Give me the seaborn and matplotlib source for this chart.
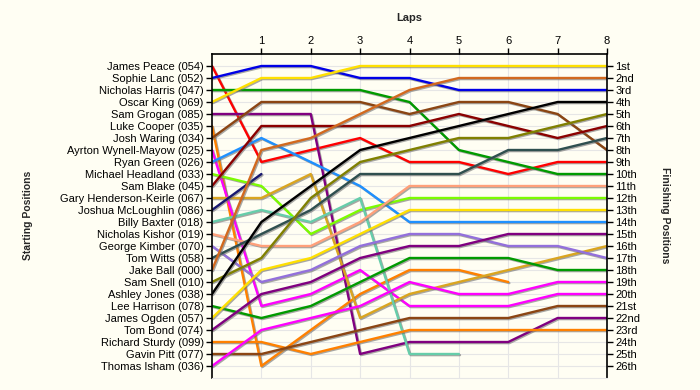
import pandas as pd
import seaborn as sns
import matplotlib.pyplot as plt
import matplotlib.patheffects as pe

# drivers in starting order
drivers = ['James Peace (054)', 'Sophie Lanc (052)', 'Nicholas Harris (047)', 'Oscar King (069)',
           'Sam Grogan (085)', 'Luke Cooper (035)', 'Josh Waring (034)', 'Ayrton Wynell-Mayow (025)',
           'Ryan Green (026)', 'Michael Headland (033)', 'Sam Blake (045)', 'Gary Henderson-Keirle (067)',
           'Joshua McLoughlin (086)', 'Billy Baxter (018)', 'Nicholas Kishor (019)', 'George Kimber (070)',
           'Tom Witts (058)', 'Jake Ball (000)', 'Sam Snell (010)', 'Ashley Jones (038)',
           'Lee Harrison (078)', 'James Ogden (057)', 'Tom Bond (074)', 'Richard Sturdy (099)',
           'Gavin Pitt (077)', 'Thomas Isham (036)']

colors = ['#FF0000', '#0000E6', '#009A00', '#FFE000', '#800080', '#FF8000', '#8B4513', '#FF00FF',
          '#1E90FF', '#7CFC00', '#8B0000', '#DAA520', '#191970', '#66CDAA', '#FFA07A', '#9370DB',
          '#2F4F4F', '#D2691E', '#808000', '#000000', '#009A00', '#FFE000', '#800080', '#FF8000',
          '#8B4513', '#FF00FF']

laps = [0, 1, 2, 3, 4, 5, 6, 7, 8]

# position of each driver at the end of each lap (None = retired)
lap0 = [1, 2, 3, 4, 5, 6, 7, 8, 9, 10, 11, 12, 13, 14, 15, 16, 17, 18, 19, 20, 21, 22, 23, 24, 25, 26]
lap1 = [9, 1, 3, 2, 5, 26, 4, 21, 7, 11, 6, 12, 10, 13, 16, 19, 15, 8, 17, 14, 22, 18, 20, 24, 25, 23]
lap2 = [8, 1, 3, 2, 5, 23, 4, 20, 9, 15, 6, 10, None, 14, 16, 18, 13, 7, 12, 11, 21, 17, 19, 25, 24, 22]
lap3 = [7, 2, 3, 1, 25, 20, 4, 18, 11, 13, 6, 22, None, 12, 14, 16, 10, 5, 9, 8, 19, 15, 17, 24, 23, 21]
lap4 = [9, 2, 4, 1, 24, 18, 5, 21, 14, 12, 6, 20, None, 25, 11, 15, 10, 3, 8, 7, 17, 13, 16, 23, 22, 19]
lap5 = [9, 3, 8, 1, 24, 18, 4, 21, 14, 12, 5, 19, None, 25, 11, 15, 10, 2, 7, 6, 17, 13, 16, 23, 22, 20]
lap6 = [10, 3, 9, 1, 24, 19, 4, 21, 14, 12, 6, 18, None, None, 11, 16, 8, 2, 7, 5, 17, 13, 15, 23, 22, 20]
lap7 = [9, 3, 10, 1, 22, None, 5, 20, 14, 12, 7, 17, None, None, 11, 16, 8, 2, 6, 4, 18, 13, 15, 23, 21, 19]
lap8 = [9, 3, 10, 1, 22, None, 8, 20, 14, 12, 6, 16, None, None, 11, 17, 7, 2, 5, 4, 18, 13, 15, 23, 21, 19]

finish_labels = ['1st', '2nd', '3rd', '4th', '5th', '6th', '7th', '8th', '9th', '10th', '11th', '12th',
                 '13th', '14th', '15th', '16th', '17th', '18th', '19th', '20th', '21st', '22nd', '23rd',
                 '24th', '25th', '26th']

all_laps = [lap0, lap1, lap2, lap3, lap4, lap5, lap6, lap7, lap8]
rows = []
for lap, col in zip(laps, all_laps):
    for name, p in zip(drivers, col):
        if p is not None:
            rows.append({'driver': name, 'lap': lap, 'pos': p})
df = pd.DataFrame(rows)

bg = '#FFFEF3'
sns.set_style('white')
plt.rcParams['font.family'] = ['Liberation Sans', 'DejaVu Sans']

fig = plt.figure(figsize=(7, 3.9), dpi=100, facecolor=bg)
ax = fig.add_axes([212 / 700, 1 - 378 / 390, 395 / 700, 324 / 390])
ax.set_facecolor(bg)

sns.lineplot(data=df, x='lap', y='pos', hue='driver', hue_order=drivers,
             palette=dict(zip(drivers, colors)), estimator=None, sort=False,
             linewidth=1.7, legend=False, ax=ax)
for line in ax.lines:
    line.set_path_effects([pe.SimpleLineShadow(offset=(0.8, -0.8), shadow_color='#6E6E6E', alpha=0.6),
                           pe.Normal()])

ax.set_xlim(0, 8)
ax.set_ylim(27, 0)
ax.xaxis.tick_top()
ax.set_xticks(range(1, 9))
ax.set_yticks(range(1, 27))
ax.set_yticklabels(drivers)
ax.set_xlabel('')
ax.set_ylabel('')
ax.tick_params(axis='both', direction='out', length=4, width=1, labelsize=8, pad=2, colors='black')
ax.grid(True, color='#E6E6E6', lw=0.8)
ax.set_axisbelow(True)
for s in ['top', 'left', 'right']:
    ax.spines[s].set_color('black')
    ax.spines[s].set_linewidth(1.2)
ax.spines['bottom'].set_color('#E6E6E6')

ax2 = ax.twinx()
ax2.set_ylim(27, 0)
ax2.set_yticks(range(1, 27))
ax2.set_yticklabels(finish_labels)
ax2.tick_params(axis='y', direction='out', length=4, width=1, labelsize=8, pad=2, colors='black')
for s in ax2.spines.values():
    s.set_visible(False)

fig.text(409 / 700, 1 - 18 / 390, 'Laps', ha='center', va='center', fontsize=8, fontweight='bold')
fig.text(28 / 700, 1 - 215 / 390, 'Starting Positions', ha='center', va='center',
         rotation=90, fontsize=7.5, fontweight='bold')
fig.text(665 / 700, 1 - 215 / 390, 'Finishing Positions', ha='center', va='center',
         rotation=270, fontsize=7.5, fontweight='bold')

fig.savefig('out.png', dpi=100, facecolor=bg)
